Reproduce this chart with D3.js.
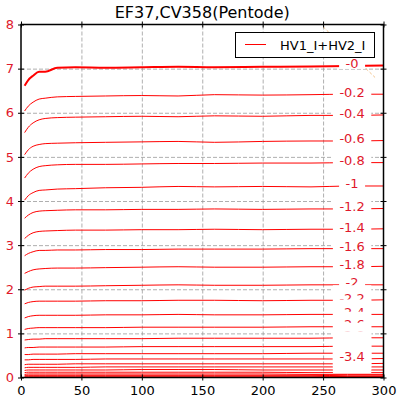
<!DOCTYPE html>
<html>
<head>
<meta charset="utf-8">
<script src="https://cdn.jsdelivr.net/npm/d3@7"></script>
<style>
  body { margin: 0; background: #fff; }
  text { font-family: "DejaVu Sans", sans-serif; }
</style>
</head>
<body>
<div id="container"></div>
<script>
/* CONSTANTS AND GLOBALS */
const width = 399,
  height = 398,
  margin = { top: 24.5, bottom: 20.5, left: 21, right: 15.5 }

const red = "#ff0000",
  labelRed = "#e0182c"

/* DATA */
const titleText = "EF37,CV358(Pentode)"
const legendText = "HV1_I+HV2_I"
const xTicks = [0, 50, 100, 150, 200, 250, 300]
const yTicks = [0, 1, 2, 3, 4, 5, 6, 7, 8]

// sample positions along x for every curve
const xs = [3, 6, 10, 15, 20, 30, 45, 70, 100, 130, 160, 200, 240, 270, 300]

// curve names (grid voltage), top curve first
const levelNames = ["-0", "-0.2", "-0.4", "-0.6", "-0.8", "-1", "-1.2", "-1.4", "-1.6", "-1.8",
  "-2", "-2.2", "-2.4", "-2.6", "-2.8", "-3", "-3.2", "-3.4", "-3.6", "-3.8", "-4",
  "-4.2", "-4.4", "-4.6", "-4.8", "-5"]

// current at the xs above
const currents = [
  [6.61, 6.74, 6.84, 6.93, 6.93, 7.02, 7.03, 7.02, 7.03, 7.04, 7.03, 7.04, 7.05, 7.06, 7.07],
  [6.04, 6.15, 6.24, 6.31, 6.33, 6.36, 6.37, 6.38, 6.39, 6.38, 6.41, 6.40, 6.41, 6.42, 6.42],
  [5.55, 5.67, 5.77, 5.84, 5.87, 5.89, 5.90, 5.91, 5.92, 5.91, 5.93, 5.92, 5.94, 5.94, 5.95],
  [5.05, 5.16, 5.24, 5.28, 5.30, 5.31, 5.32, 5.33, 5.34, 5.35, 5.33, 5.35, 5.36, 5.36, 5.37],
  [4.52, 4.63, 4.72, 4.78, 4.80, 4.82, 4.83, 4.83, 4.84, 4.85, 4.85, 4.86, 4.86, 4.87, 4.87],
  [4.02, 4.12, 4.19, 4.24, 4.25, 4.27, 4.28, 4.30, 4.31, 4.33, 4.32, 4.33, 4.32, 4.34, 4.34],
  [3.61, 3.68, 3.74, 3.77, 3.78, 3.79, 3.80, 3.80, 3.81, 3.81, 3.82, 3.81, 3.82, 3.82, 3.83],
  [3.15, 3.22, 3.28, 3.31, 3.32, 3.33, 3.34, 3.34, 3.35, 3.35, 3.36, 3.35, 3.36, 3.36, 3.37],
  [2.76, 2.81, 2.85, 2.88, 2.88, 2.89, 2.89, 2.90, 2.90, 2.91, 2.91, 2.91, 2.92, 2.92, 2.92],
  [2.36, 2.40, 2.44, 2.46, 2.47, 2.48, 2.48, 2.49, 2.50, 2.51, 2.50, 2.50, 2.51, 2.51, 2.52],
  [1.98, 2.02, 2.05, 2.06, 2.07, 2.07, 2.07, 2.08, 2.09, 2.10, 2.09, 2.09, 2.10, 2.10, 2.10],
  [1.67, 1.70, 1.72, 1.73, 1.73, 1.73, 1.73, 1.74, 1.74, 1.75, 1.75, 1.74, 1.75, 1.75, 1.76],
  [1.35, 1.38, 1.40, 1.41, 1.41, 1.41, 1.41, 1.42, 1.42, 1.43, 1.42, 1.42, 1.43, 1.43, 1.43],
  [1.09, 1.11, 1.12, 1.13, 1.13, 1.13, 1.13, 1.13, 1.14, 1.14, 1.14, 1.14, 1.15, 1.15, 1.15],
  [0.85, 0.86, 0.87, 0.87, 0.88, 0.88, 0.88, 0.88, 0.88, 0.89, 0.89, 0.89, 0.89, 0.90, 0.90],
  [0.67, 0.68, 0.68, 0.69, 0.69, 0.69, 0.69, 0.69, 0.70, 0.70, 0.70, 0.70, 0.70, 0.71, 0.71],
  [0.52, 0.52, 0.53, 0.53, 0.53, 0.53, 0.54, 0.54, 0.54, 0.54, 0.54, 0.54, 0.55, 0.55, 0.55],
  [0.40, 0.40, 0.41, 0.41, 0.41, 0.41, 0.41, 0.42, 0.42, 0.42, 0.42, 0.42, 0.42, 0.42, 0.43],
  [0.29, 0.30, 0.30, 0.30, 0.30, 0.30, 0.31, 0.31, 0.31, 0.31, 0.31, 0.31, 0.31, 0.31, 0.32],
  [0.22, 0.23, 0.23, 0.23, 0.23, 0.23, 0.23, 0.24, 0.24, 0.24, 0.24, 0.24, 0.24, 0.24, 0.24],
  [0.16, 0.17, 0.17, 0.17, 0.17, 0.17, 0.17, 0.17, 0.18, 0.18, 0.18, 0.17, 0.17, 0.17, 0.17],
  [0.11, 0.12, 0.12, 0.12, 0.12, 0.12, 0.12, 0.12, 0.12, 0.12, 0.12, 0.12, 0.11, 0.11, 0.11],
  [0.07, 0.08, 0.08, 0.08, 0.08, 0.08, 0.08, 0.08, 0.08, 0.08, 0.08, 0.08, 0.07, 0.07, 0.07],
  [0.05, 0.05, 0.05, 0.05, 0.05, 0.05, 0.05, 0.05, 0.05, 0.05, 0.05, 0.05, 0.05, 0.04, 0.04],
  [0.03, 0.03, 0.03, 0.03, 0.03, 0.03, 0.03, 0.03, 0.03, 0.03, 0.03, 0.03, 0.03, 0.02, 0.02],
  [0.01, 0.01, 0.01, 0.01, 0.01, 0.01, 0.01, 0.01, 0.01, 0.01, 0.01, 0.01, 0.01, 0.01, 0.01]
]

// inline labels: which curves carry one, and which texts remain readable
const labelCount = 21
const hiddenLabels = ["-3", "-3.2", "-3.6", "-3.8", "-4"]
const labelX = 274

// faint dashed guide near the legend
const guideX = [250, 293]
const guideY = [7.95, 6.8]

/* SCALES */
const xScale = d3.scaleLinear()
  .domain([0, 300])
  .range([margin.left, width - margin.right])

const yScale = d3.scaleLinear()
  .domain([0, 8])
  .range([height - margin.bottom, margin.top])

/* SVG */
const svg = d3.select("#container")
  .append("svg")
  .attr("width", width)
  .attr("height", height)

svg.append("defs").append("clipPath")
  .attr("id", "plot-clip")
  .append("rect")
  .attr("x", margin.left)
  .attr("y", margin.top)
  .attr("width", width - margin.left - margin.right)
  .attr("height", height - margin.top - margin.bottom)

// GRID
const plotH = height - margin.top - margin.bottom,
  plotW = width - margin.left - margin.right

svg.append("g")
  .attr("class", "grid")
  .attr("transform", `translate(0, ${height - margin.bottom})`)
  .call(d3.axisBottom(xScale).tickValues(xTicks.slice(1, -1)).tickSize(-plotH).tickFormat(""))
svg.append("g")
  .attr("class", "grid")
  .attr("transform", `translate(${margin.left}, 0)`)
  .call(d3.axisLeft(yScale).tickValues(yTicks.slice(1, -1)).tickSize(-plotW).tickFormat(""))
svg.selectAll(".grid .domain").remove()
svg.selectAll(".grid line")
  .attr("stroke", "#9a9a9a")
  .attr("stroke-width", 0.8)
  .attr("stroke-dasharray", "4,2")

// CURVES
const lineGen = d3.line()
  .x((d, i) => xScale(xs[i]))
  .y(d => yScale(d))
  .curve(d3.curveMonotoneX)

const plot = svg.append("g").attr("clip-path", "url(#plot-clip)")

plot.append("path")
  .attr("d", d3.line().x(d => xScale(d[0])).y(d => yScale(d[1]))(d3.zip(guideX, guideY)))
  .attr("fill", "none")
  .attr("stroke", "#f3c48c")
  .attr("stroke-width", 1)
  .attr("stroke-dasharray", "3,2")

plot.selectAll(".curve")
  .data(currents)
  .join("path")
  .attr("class", "curve")
  .attr("fill", "none")
  .attr("stroke", red)
  .attr("stroke-width", (d, i) => i === 0 ? 2 : 1)
  .attr("d", lineGen)

// INLINE LABELS (white box breaks the line, then the text)
const labelAt = v => {
  // value of the curve at labelX
  const j = xs.findIndex(x => x >= labelX)
  const t = (labelX - xs[j - 1]) / (xs[j] - xs[j - 1])
  return v[j - 1] + t * (v[j] - v[j - 1])
}

const labels = plot.append("g")
let lastVisible = null
levelNames.slice(0, labelCount).forEach((name, i) => {
  const cy = yScale(labelAt(currents[i]))
  const txt = labels.append("text")
    .attr("x", xScale(labelX))
    .attr("y", cy + 2.5)
    .attr("text-anchor", "middle")
    .attr("font-size", 13)
    .attr("fill", labelRed)
    .text(hiddenLabels.includes(name) ? "-3.6" : name)
  const w = txt.node().getComputedTextLength() + 13
  labels.insert("rect", () => txt.node())
    .attr("x", xScale(labelX) - w / 2)
    .attr("y", cy - 15)
    .attr("width", w)
    .attr("height", 18)
    .attr("fill", "#fff")
  if (hiddenLabels.includes(name)) txt.remove()
  if (name === "-3.4") lastVisible = txt
})
if (lastVisible) lastVisible.raise()

// AXES
const tickFont = sel => sel.selectAll("text").attr("font-size", 13).attr("font-family", "DejaVu Sans")

const xAxis = svg.append("g")
  .attr("transform", `translate(0, ${height - margin.bottom})`)
  .call(d3.axisBottom(xScale).tickValues(xTicks).tickSize(3).tickSizeOuter(0).tickPadding(5))
xAxis.call(tickFont)
xAxis.selectAll("text").attr("fill", "#000")

const yAxis = svg.append("g")
  .attr("transform", `translate(${margin.left}, 0)`)
  .call(d3.axisLeft(yScale).tickValues(yTicks).tickSize(3).tickSizeOuter(0).tickPadding(4))
yAxis.call(tickFont)
yAxis.selectAll("text").attr("fill", labelRed)

// inward halves of the ticks, and the top / right sides
svg.append("g")
  .attr("transform", `translate(0, ${height - margin.bottom})`)
  .call(d3.axisBottom(xScale).tickValues(xTicks).tickSize(-3).tickFormat(""))
svg.append("g")
  .attr("transform", `translate(0, ${margin.top})`)
  .call(d3.axisTop(xScale).tickValues(xTicks).tickSize(3).tickSizeOuter(0).tickFormat(""))
svg.append("g")
  .attr("transform", `translate(0, ${margin.top})`)
  .call(d3.axisTop(xScale).tickValues(xTicks).tickSize(-3).tickFormat(""))
svg.append("g")
  .attr("transform", `translate(${margin.left}, 0)`)
  .call(d3.axisLeft(yScale).tickValues(yTicks).tickSize(-3).tickFormat(""))
svg.append("g")
  .attr("transform", `translate(${width - margin.right}, 0)`)
  .call(d3.axisRight(yScale).tickValues(yTicks).tickSize(3).tickSizeOuter(0).tickFormat(""))
svg.append("g")
  .attr("transform", `translate(${width - margin.right}, 0)`)
  .call(d3.axisRight(yScale).tickValues(yTicks).tickSize(-3).tickFormat(""))

svg.selectAll(".domain").remove()

// frame
svg.append("rect")
  .attr("x", margin.left)
  .attr("y", margin.top)
  .attr("width", plotW)
  .attr("height", plotH)
  .attr("fill", "none")
  .attr("stroke", "#000")
  .attr("stroke-width", 1.5)

// TITLE
svg.append("text")
  .attr("x", margin.left + plotW / 2)
  .attr("y", 17.5)
  .attr("text-anchor", "middle")
  .attr("font-size", 16)
  .text(titleText)

// LEGEND
const legend = svg.append("g")
legend.append("rect")
  .attr("x", 235.5)
  .attr("y", 32.5)
  .attr("width", 139)
  .attr("height", 25)
  .attr("fill", "#fff")
  .attr("stroke", "#000")
  .attr("stroke-width", 1)
legend.append("line")
  .attr("x1", 245).attr("x2", 266)
  .attr("y1", 44.5).attr("y2", 44.5)
  .attr("stroke", red)
  .attr("stroke-width", 1)
legend.append("text")
  .attr("x", 280)
  .attr("y", 49.5)
  .attr("font-size", 13)
  .text(legendText)
</script>
</body>
</html>
